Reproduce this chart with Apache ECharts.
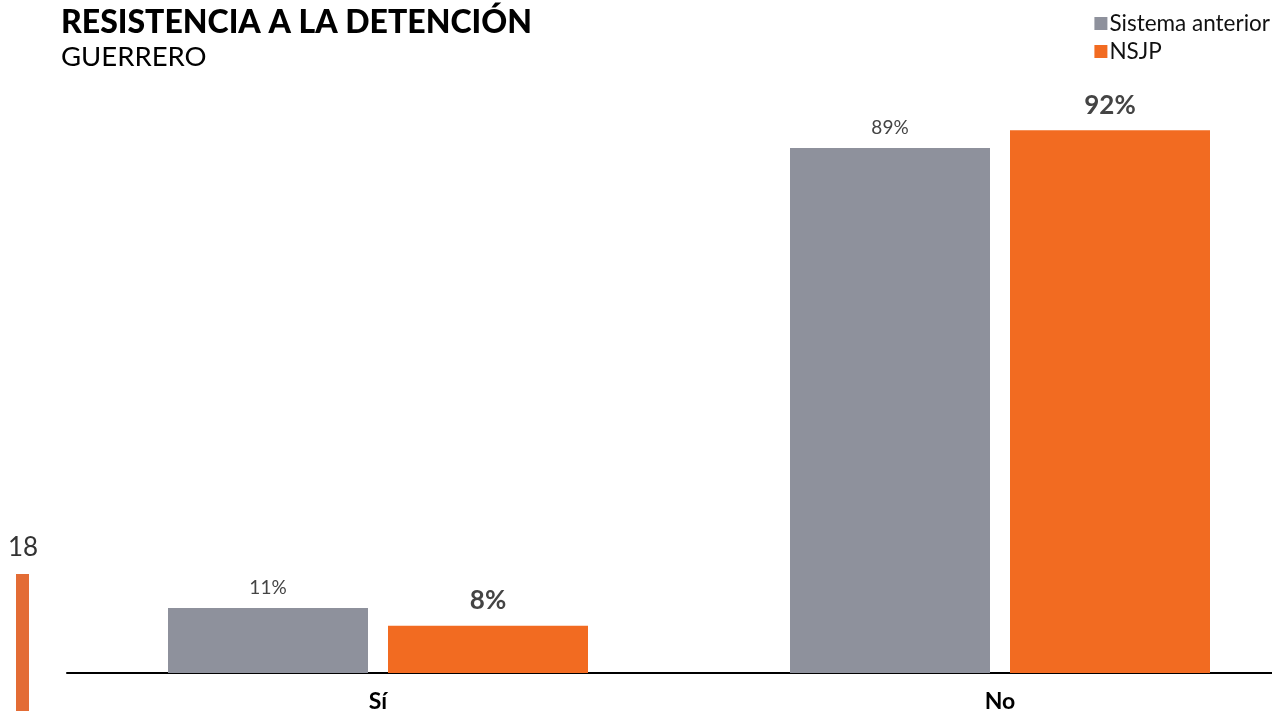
<!DOCTYPE html>
<html><head><meta charset="utf-8">
<script src="https://cdn.jsdelivr.net/npm/echarts@6/dist/echarts.min.js"></script>
<style>html,body{margin:0;padding:0;background:#fff}#c{width:1272px;height:711px}</style>
</head><body><div id="c"></div>
<script>
const categories = ['Sí', 'No'];
const sistemaAnterior = [11, 89];
const nsjp = [8, 92];
const seriesNames = ['Sistema anterior', 'NSJP'];

const chart = echarts.init(document.getElementById('c'));
chart.setOption({
  animation: false,
  textStyle: { fontFamily: 'Lato' },
  title: [
    { text: 'RESISTENCIA A LA DETENCIÓN', left: 56, top: 2,
      textStyle: { fontFamily: 'Lato', fontWeight: 900, fontSize: 32, color: '#000' } },
    { text: 'GUERRERO', left: 56, top: 38,
      textStyle: { fontFamily: 'Lato', fontWeight: 'normal', fontSize: 27.5, color: '#000' } }
  ],
  legend: {
    orient: 'vertical', right: -3, top: 7, itemGap: 5,
    itemWidth: 13, itemHeight: 13, icon: 'rect',
    textStyle: { fontFamily: 'Lato', fontSize: 22.5, color: '#111', padding: [0, 0, 0, -3] },
    data: seriesNames
  },
  grid: { left: 67, width: 1244, top: 83, bottom: 38, containLabel: false, outerBoundsMode: 'none' },
  xAxis: {
    type: 'category', data: categories,
    axisLine: { lineStyle: { color: '#000', width: 2 } },
    axisTick: { show: false },
    axisLabel: { fontFamily: 'Lato', fontWeight: 'bold', fontSize: 23, color: '#000', margin: 17 }
  },
  yAxis: { type: 'value', min: 0, max: 100, show: false, splitLine: { show: false } },
  graphic: [
    { type: 'text', left: 8, top: 535, style: { text: '18', fontFamily: 'Lato', fontSize: 26, fill: '#333' } },
    { type: 'rect', shape: { x: 16, y: 574, width: 13, height: 140 }, style: { fill: '#E36C35' } }
  ],
  series: [
    { name: seriesNames[0], type: 'bar', data: sistemaAnterior, barWidth: 200, barGap: '10%',
      itemStyle: { color: '#8E919C' },
      label: { show: true, position: 'top', distance: 11, formatter: '{c}%',
        fontFamily: 'Lato', fontSize: 19, color: '#444', fontWeight: 'normal' } },
    { name: seriesNames[1], type: 'bar', data: nsjp, barWidth: 200,
      itemStyle: { color: '#F26B21' },
      label: { show: true, position: 'top', distance: 12, formatter: '{c}%',
        fontFamily: 'Lato', fontSize: 26, color: '#444', fontWeight: 'bold' } }
  ]
});
</script></body></html>
